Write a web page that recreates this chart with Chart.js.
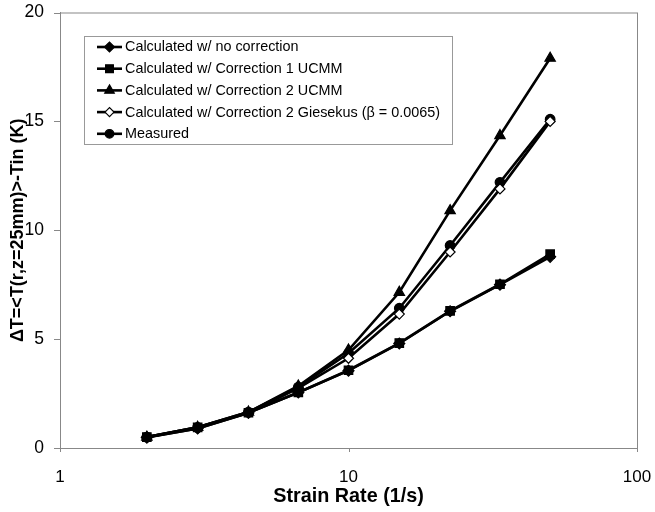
<!DOCTYPE html>
<html>
<head>
<meta charset="utf-8">
<script src="https://cdn.jsdelivr.net/npm/chart.js@4"></script>
<style>
  html, body { margin: 0; padding: 0; background: #fff; }
  #wrap { width: 655px; height: 512px; }
</style>
</head>
<body>
<div id="wrap"><canvas id="chart" width="655" height="512"></canvas></div>
<script>
// strain rate (1/s)
const strainRate = [2, 3, 4.5, 6.7, 10, 15, 22.5, 33.5, 50];
// ΔT (K)
const noCorrection = [0.48, 0.9, 1.62, 2.55, 3.55, 4.8, 6.28, 7.5, 8.78];
const correction1UCMM = [0.5, 0.95, 1.62, 2.55, 3.57, 4.82, 6.3, 7.52, 8.9];
const correction2UCMM = [0.5, 0.95, 1.65, 2.85, 4.5, 7.15, 10.9, 14.35, 17.9];
const correction2Giesekus = [0.5, 0.9, 1.6, 2.75, 4.12, 6.15, 9.0, 11.9, 15.0];
const measured = [0.5, 0.95, 1.65, 2.8, 4.35, 6.42, 9.3, 12.2, 15.1];

const xTicks = [1, 10, 100];
const yTicks = [0, 5, 10, 15, 20];

const seriesNames = [
    'Calculated w/ no correction',
    'Calculated w/ Correction 1 UCMM',
    'Calculated w/ Correction 2 UCMM',
    'Calculated w/ Correction 2 Giesekus (\u03B2 = 0.0065)',
    'Measured'
];

const FONT = "'Liberation Sans', Arial, Helvetica, sans-serif";

const pts = (ys) => strainRate.map((x, i) => ({ x: x, y: ys[i] }));

function series(label, ys, style, radius, fill) {
    return {
        label: label,
        data: pts(ys),
        borderColor: '#000',
        borderWidth: 2.6,
        pointStyle: style,
        pointRadius: radius,
        pointBackgroundColor: fill,
        pointBorderColor: '#000',
        pointBorderWidth: 1.2,
        tension: 0
    };
}

const datasets = [
    series(seriesNames[0], noCorrection, 'rectRot', 5.5, '#000'),
    series(seriesNames[1], correction1UCMM, 'rect', 6, '#000'),
    series(seriesNames[2], correction2UCMM, 'triangle', 6, '#000'),
    series(seriesNames[3], correction2Giesekus, 'rectRot', 5, '#fff'),
    series(seriesNames[4], measured, 'circle', 4.8, '#000')
];

// frame around plot, short tick marks, legend box inside the plot
const framePlugin = {
    id: 'frame',
    afterDraw(chart) {
        const { ctx, chartArea: a, scales } = chart;
        ctx.save();
        ctx.strokeStyle = '#888';
        ctx.lineWidth = 1;
        ctx.strokeRect(a.left + 0.5, a.top + 0.5, a.right - a.left, a.bottom - a.top);

        ctx.beginPath();
        xTicks.forEach(v => {
            const px = Math.round(scales.x.getPixelForValue(v)) + 0.5;
            ctx.moveTo(px, a.bottom);
            ctx.lineTo(px, a.bottom + 4);
        });
        yTicks.forEach(v => {
            const py = Math.round(scales.y.getPixelForValue(v)) + 0.5;
            ctx.moveTo(a.left - 6, py);
            ctx.lineTo(a.left, py);
        });
        ctx.stroke();

        // legend
        const bx = 84, by = 36, bw = 368, bh = 108;
        ctx.fillStyle = '#fff';
        ctx.fillRect(bx, by, bw, bh);
        ctx.strokeStyle = '#999';
        ctx.strokeRect(bx + 0.5, by + 0.5, bw, bh);
        ctx.font = '14.4px ' + FONT;
        ctx.textBaseline = 'middle';
        chart.data.datasets.forEach((ds, i) => {
            const y = 47 + i * 21.7;
            ctx.strokeStyle = '#000';
            ctx.lineWidth = 2.6;
            ctx.beginPath();
            ctx.moveTo(97, y);
            ctx.lineTo(122, y);
            ctx.stroke();
            ctx.fillStyle = ds.pointBackgroundColor;
            ctx.strokeStyle = '#000';
            ctx.lineWidth = 1.2;
            Chart.helpers.drawPoint(ctx, { pointStyle: ds.pointStyle, radius: ds.pointRadius - 0.5, borderWidth: 1.2, rotation: 0 }, 109.5, y);
            ctx.fillStyle = '#000';
            ctx.fillText(ds.label, 125, y + 0.5);
        });
        ctx.restore();
    }
};

new Chart(document.getElementById('chart'), {
    type: 'line',
    data: { datasets: datasets },
    options: {
        responsive: false,
        animation: false,
        layout: { padding: { top: 12, right: 18, left: 0, bottom: 0 } },
        plugins: { legend: { display: false }, tooltip: { enabled: false } },
        scales: {
            x: {
                type: 'logarithmic',
                min: 1,
                max: 100,
                afterBuildTicks: (s) => { s.ticks = xTicks.map(v => ({ value: v })); },
                afterFit: (s) => { s.height = 64; },
                ticks: {
                    color: '#000',
                    font: { family: FONT, size: 17 },
                    padding: 2,
                    maxRotation: 0,
                    callback: (v) => String(v)
                },
                grid: { drawOnChartArea: false, drawTicks: true, tickLength: 17, tickColor: 'rgba(0,0,0,0)', color: '#888' },
                border: { color: '#888' },
                title: {
                    display: true,
                    text: 'Strain Rate (1/s)',
                    color: '#000',
                    font: { family: FONT, size: 19.8, weight: 'bold' },
                    padding: { top: 0, bottom: 4 }
                }
            },
            y: {
                min: 0,
                max: 20,
                afterBuildTicks: (s) => { s.ticks = yTicks.map(v => ({ value: v })); },
                afterFit: (s) => { s.width = 60; },
                ticks: {
                    color: '#000',
                    font: { family: FONT, size: 17.5 },
                    padding: 2
                },
                grid: { drawOnChartArea: false, drawTicks: true, tickLength: 14, tickColor: 'rgba(0,0,0,0)', color: '#888' },
                border: { color: '#888' },
                title: {
                    display: true,
                    text: '\u0394T=<T(r,z=25mm)>-Tin (K)',
                    color: '#000',
                    font: { family: FONT, size: 18, weight: 'bold' },
                    padding: { top: 7, bottom: 0 }
                }
            }
        }
    },
    plugins: [framePlugin]
});
</script>
</body>
</html>
